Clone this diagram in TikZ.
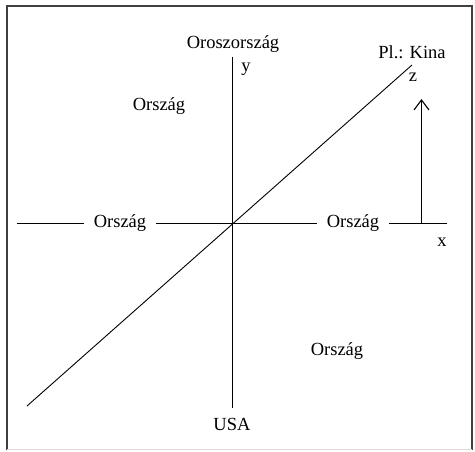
\documentclass[tikz,border=0pt]{standalone}
\usepackage{fontspec}
\setmainfont{Liberation Serif}
\usetikzlibrary{arrows.meta}
\begin{document}
\begin{tikzpicture}[x=1pt,y=-1pt,
  lbl/.style={font=\fontsize{18.5}{20}\selectfont, inner sep=0pt},
  axlbl/.style={font=\fontsize{18.5}{20}\selectfont, inner ysep=0pt, inner xsep=10pt},
  ax/.style={line width=1.1pt, black}]
\useasboundingbox (0,0) rectangle (475,451);
\fill[white] (0,0) rectangle (475,451);
\draw[line width=1.2pt, black!75] (7,450) -- (7,6) -- (472,6) -- (472,450);
\draw[line width=0.8pt, black!15] (7,449.5) -- (472,449.5);
% coordinates
\coordinate (O) at (232.5,223.5);
\coordinate (xl) at (17,223.5);
\coordinate (xr) at (447,223.5);
\coordinate (yt) at (232.5,57);
\coordinate (yb) at (232.5,408);
\coordinate (zt) at (412,65);
\coordinate (zb) at (27,406);
\coordinate (ab) at (421.5,223.5);
\coordinate (at) at (421.5,99);
% axis labels
\node[axlbl] (L) at (120,223.5) {Ország};
\node[axlbl] (R) at (353,223.5) {Ország};
% axes
\draw[ax] (xl) -- (L.west);
\draw[ax] (L.east) -- (O);
\draw[ax] (O) -- (R.west);
\draw[ax] (R.east) -- (xr);
\draw[ax] (yt) -- (yb);
\draw[line width=0.9pt] (zb) -- (zt);
\draw[ax, -{Straight Barb[length=10pt,width=15pt]}] (ab) -- (at);
% labels
\node[lbl] (ru) at (233,44) {Oroszország};
\node[lbl] (yl) at (246,69) {y};
\node[lbl] (cn) at (412,52) {Pl.: Kina};
\node[lbl] (zl) at (413,77) {z};
\node[lbl] (ul) at (159,106) {Ország};
\node[lbl] (xlb) at (442,242) {x};
\node[lbl] (lr) at (337,351) {Ország};
\node[lbl] (us) at (232,424) {USA};
\end{tikzpicture}
\end{document}
